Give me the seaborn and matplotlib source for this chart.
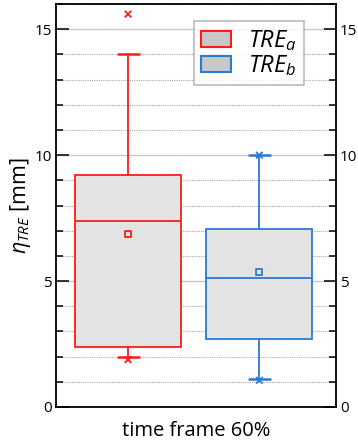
import matplotlib
matplotlib.use("Agg")
import matplotlib.pyplot as plt
import seaborn as sns
import pandas as pd
from matplotlib.patches import Patch
from matplotlib.ticker import MultipleLocator

# ---- data ----
groups = ["TRE_a", "TRE_b"]
legend_labels = [r"$TRE_a$", r"$TRE_b$"]
q1 = [2.4, 2.7]
median = [7.4, 5.13]
q3 = [9.2, 7.07]
whisker_low = [2.0, 1.1]
whisker_high = [14.0, 10.0]
means = [6.85, 5.36]
mins = [1.88, 1.06]
maxs = [15.6, 10.0]
xlabel = "time frame 60%"
ylabel = r"$\eta_{TRE}$ [mm]"

colors = ["#ff1a1a", "#2a7bd3"]

sns.set_theme(style="ticks")
plt.rcParams["font.family"] = ["Open Sans", "DejaVu Sans"]
plt.rcParams["mathtext.fontset"] = "custom"
plt.rcParams["mathtext.rm"] = "Open Sans"
plt.rcParams["mathtext.it"] = "Open Sans:italic"
plt.rcParams["text.color"] = "black"
plt.rcParams["axes.labelcolor"] = "black"
plt.rcParams["xtick.color"] = "black"
plt.rcParams["ytick.color"] = "black"

fig = plt.figure(figsize=(3.58, 4.45), dpi=100)
ax = fig.add_axes([0.156, 0.0854, 0.7825, 0.9056])

positions = list(range(len(groups)))
for i in positions:
    stats = [dict(med=median[i], q1=q1[i], q3=q3[i], whislo=whisker_low[i],
                  whishi=whisker_high[i], mean=means[i], fliers=[], label=groups[i])]
    ax.bxp(stats, positions=[i], widths=0.81, patch_artist=True, showmeans=False,
           showfliers=False,
           boxprops=dict(facecolor="#e3e3e3", edgecolor=colors[i], linewidth=1.3),
           medianprops=dict(color=colors[i], linewidth=1.3),
           whiskerprops=dict(color=colors[i], linewidth=1.3),
           capprops=dict(color=colors[i], linewidth=1.8),
           capwidths=0.16, zorder=3)

for i in positions:
    ax.scatter([i], [means[i]], marker="s", s=22, facecolors="#e3e3e3",
               edgecolors=colors[i], linewidths=1.3, zorder=5)
df_ext = pd.DataFrame({"x": positions + positions, "y": mins + maxs,
                       "g": groups + groups})
sns.scatterplot(data=df_ext, x="x", y="y", hue="g", palette=colors, marker="x",
                s=22, linewidth=1.3, legend=False, ax=ax, zorder=5)

ax.set_xlim(-0.55, 1.584)
ax.set_ylim(0, 16)
ax.set_xticks([])
ax.yaxis.set_major_locator(MultipleLocator(5))
ax.yaxis.set_minor_locator(MultipleLocator(1))
ax.tick_params(axis="y", which="both", direction="in", left=True, right=True,
               labelleft=True, labelright=True, width=1.1, labelsize=11, pad=3,
               colors="black")
ax.tick_params(axis="y", which="major", length=9)
ax.tick_params(axis="y", which="minor", length=5)
ax.grid(True, which="major", axis="y", color="#c8c8c8", linewidth=1.0, zorder=0)
ax.grid(True, which="minor", axis="y", color="#aaaaaa", linewidth=0.8,
        linestyle=(0, (1, 1)), zorder=0)
ax.set_axisbelow(True)
for sp in ax.spines.values():
    sp.set_visible(True)
    sp.set_color("black")
    sp.set_linewidth(1.3)

ax.set_xlabel(xlabel, fontsize=14.5, labelpad=10, color="black")
ax.set_ylabel(ylabel, fontsize=15.5, labelpad=1, color="black")

handles = [Patch(facecolor="#c8c8c8", edgecolor=c, linewidth=1.5) for c in colors]
leg = ax.legend(handles, legend_labels, loc="upper right",
                bbox_to_anchor=(0.886, 0.958), borderaxespad=0, fontsize=17,
                frameon=True, fancybox=False, edgecolor="#aaaaaa",
                handlelength=1.27, handleheight=0.65, handletextpad=0.75,
                borderpad=0.3, labelspacing=0.02)
leg.get_frame().set_linewidth(1.2)
for t in leg.get_texts():
    t.set_color("black")

fig.savefig("out.png", dpi=100)
